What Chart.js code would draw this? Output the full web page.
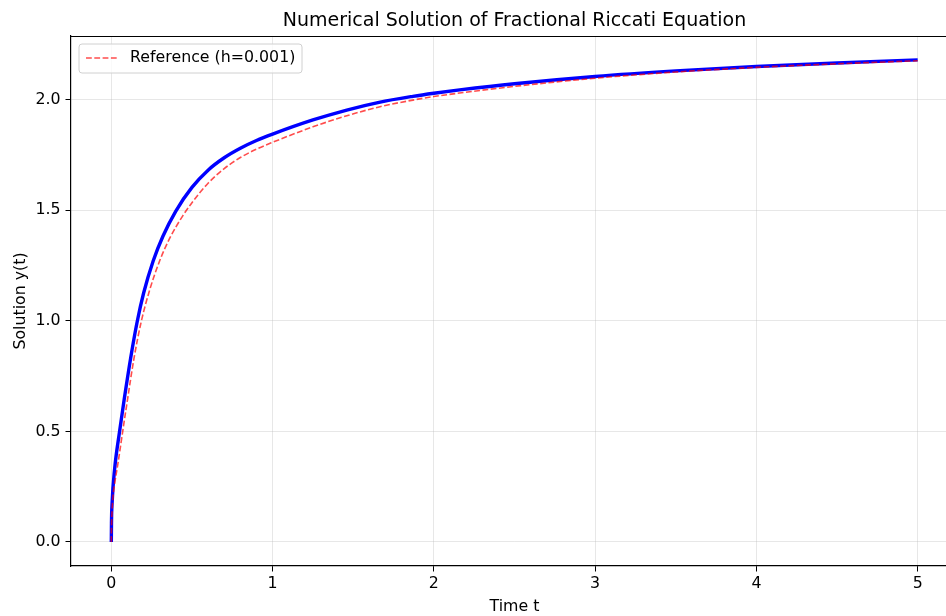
<!DOCTYPE html>
<html>
<head>
<meta charset="utf-8">
<script src="https://cdn.jsdelivr.net/npm/chart.js@4/dist/chart.umd.min.js"></script>
<style>
  html, body { margin: 0; padding: 0; background: #fff; overflow: hidden; }
  #wrap { width: 946px; height: 616px; position: relative; overflow: hidden; }
  #c { display: block; }
</style>
</head>
<body>
<div id="wrap"><canvas id="c" width="960" height="616"></canvas></div>
<script>
// ---- data ----
const chartTitle = "Numerical Solution of Fractional Riccati Equation";
const xAxisLabel = "Time t";
const yAxisLabel = "Solution y(t)";

const solutionT = [0, 0.001, 0.005, 0.02, 0.05, 0.08, 0.12, 0.16, 0.2, 0.26, 0.32, 0.4, 0.5, 0.6, 0.7, 0.8, 0.9, 1.0, 1.25, 1.46, 1.66, 1.87, 2.0, 2.16, 2.5, 3.0, 3.5, 4.0, 4.5, 5.0];
const solutionY = [0, 0.085, 0.178, 0.326, 0.494, 0.645, 0.832, 0.995, 1.125, 1.272, 1.383, 1.497, 1.604, 1.682, 1.738, 1.781, 1.816, 1.845, 1.909, 1.954, 1.989, 2.016, 2.030, 2.045, 2.073, 2.106, 2.131, 2.151, 2.167, 2.181];

const referenceLabel = "Reference (h=0.001)";
const referenceT = [0, 0.001, 0.005, 0.01, 0.02, 0.04, 0.07, 0.1, 0.14, 0.185, 0.24, 0.3, 0.36, 0.44, 0.5, 0.6, 0.7, 0.8, 0.9, 1.0, 1.25, 1.46, 1.66, 1.87, 2.0, 2.16, 2.5, 3.0, 3.5, 4.0, 4.5, 5.0];
const referenceY = [0, 0.06, 0.14, 0.2, 0.26, 0.35, 0.497, 0.642, 0.828, 0.995, 1.145, 1.272, 1.371, 1.472, 1.535, 1.623, 1.689, 1.739, 1.777, 1.808, 1.878, 1.928, 1.968, 1.999, 2.015, 2.031, 2.061, 2.098, 2.126, 2.147, 2.163, 2.177];

const xTicks = [0, 1, 2, 3, 4, 5];
const yTicks = [0, 0.5, 1.0, 1.5, 2.0];

// ---- build datasets ----
const toPts = (xs, ys) => xs.map((x, i) => ({ x: x, y: ys[i] }));

const FONT = "'DejaVu Sans', sans-serif";
const FS = 15.8;

const framePlugin = {
  id: 'frame',
  afterDraw(chart) {
    const { ctx, chartArea: a } = chart;
    ctx.save();
    // top and right spines
    ctx.strokeStyle = '#000';
    ctx.lineWidth = 1.2;
    ctx.beginPath();
    ctx.moveTo(a.left, a.top + 0.5);
    ctx.lineTo(a.right, a.top + 0.5);
    ctx.lineTo(a.right, a.bottom);
    ctx.stroke();
    // title centred over the axes
    ctx.fillStyle = '#000';
    ctx.font = "19px " + FONT;
    ctx.textAlign = 'center';
    ctx.textBaseline = 'middle';
    ctx.fillText(chartTitle, (a.left + a.right) / 2, 21);
    // legend
    const ds = chart.data.datasets.filter(d => d.label);
    const bx = 79, by = 44, bw = 223, bh = 29, r = 3;
    ctx.beginPath();
    ctx.moveTo(bx + r, by);
    ctx.lineTo(bx + bw - r, by);
    ctx.quadraticCurveTo(bx + bw, by, bx + bw, by + r);
    ctx.lineTo(bx + bw, by + bh - r);
    ctx.quadraticCurveTo(bx + bw, by + bh, bx + bw - r, by + bh);
    ctx.lineTo(bx + r, by + bh);
    ctx.quadraticCurveTo(bx, by + bh, bx, by + bh - r);
    ctx.lineTo(bx, by + r);
    ctx.quadraticCurveTo(bx, by, bx + r, by);
    ctx.closePath();
    ctx.fillStyle = 'rgba(255,255,255,0.8)';
    ctx.fill();
    ctx.strokeStyle = '#d0d0d0';
    ctx.lineWidth = 1;
    ctx.stroke();
    ds.forEach((d, i) => {
      const y = 58 + i * 20;
      ctx.strokeStyle = d.borderColor;
      ctx.lineWidth = d.borderWidth;
      ctx.setLineDash(d.borderDash || []);
      ctx.beginPath();
      ctx.moveTo(86, y);
      ctx.lineTo(117, y);
      ctx.stroke();
      ctx.setLineDash([]);
      ctx.fillStyle = '#000';
      ctx.font = FS + "px " + FONT;
      ctx.textAlign = 'left';
      ctx.textBaseline = 'middle';
      ctx.fillText(d.label, 130, y);
    });
    ctx.restore();
  }
};

new Chart(document.getElementById('c'), {
  type: 'scatter',
  data: {
    datasets: [
      {
        label: '',
        data: toPts(solutionT, solutionY),
        showLine: true,
        borderColor: '#0000ff',
        backgroundColor: '#0000ff',
        borderWidth: 3.4,
        pointRadius: 0,
        cubicInterpolationMode: 'monotone',
        order: 2
      },
      {
        label: referenceLabel,
        data: toPts(referenceT, referenceY),
        showLine: true,
        borderColor: 'rgba(255,0,0,0.7)',
        backgroundColor: 'rgba(255,0,0,0.7)',
        borderWidth: 1.6,
        borderDash: [5.8, 2.5],
        pointRadius: 0,
        cubicInterpolationMode: 'monotone',
        order: 1
      }
    ]
  },
  options: {
    responsive: false,
    animation: false,
    devicePixelRatio: 1,
    layout: { padding: { left: 0, top: 36, right: 2, bottom: 0 } },
    plugins: {
      legend: { display: false },
      title: { display: false },
      tooltip: { enabled: false }
    },
    scales: {
      x: {
        type: 'linear',
        min: -0.25,
        max: 5.25,
        afterBuildTicks: s => { s.ticks = xTicks.map(v => ({ value: v })); },
        afterFit: s => { s.height = 50; },
        grid: { color: 'rgba(176,176,176,0.3)', lineWidth: 1, tickColor: '#000', tickLength: 5.5, drawTicks: true },
        border: { display: true, color: '#000', width: 1.2 },
        ticks: { color: '#000', font: { family: FONT, size: FS }, padding: 3, maxRotation: 0, callback: v => String(v) },
        title: { display: true, text: xAxisLabel, color: '#000', font: { family: FONT, size: FS }, padding: { top: 0, bottom: 0 } }
      },
      y: {
        type: 'linear',
        min: -0.109,
        max: 2.289,
        afterBuildTicks: s => { s.ticks = yTicks.map(v => ({ value: v })); },
        afterFit: s => { s.width = 71; },
        grid: { color: 'rgba(176,176,176,0.3)', lineWidth: 1, tickColor: '#000', tickLength: 5.5, drawTicks: true },
        border: { display: true, color: '#000', width: 1.2 },
        ticks: { color: '#000', font: { family: FONT, size: FS }, padding: 5, callback: v => v.toFixed(1) },
        title: { display: true, text: yAxisLabel, color: '#000', font: { family: FONT, size: FS }, padding: { top: 11, bottom: 0 } }
      }
    }
  },
  plugins: [framePlugin]
});
</script>
</body>
</html>
